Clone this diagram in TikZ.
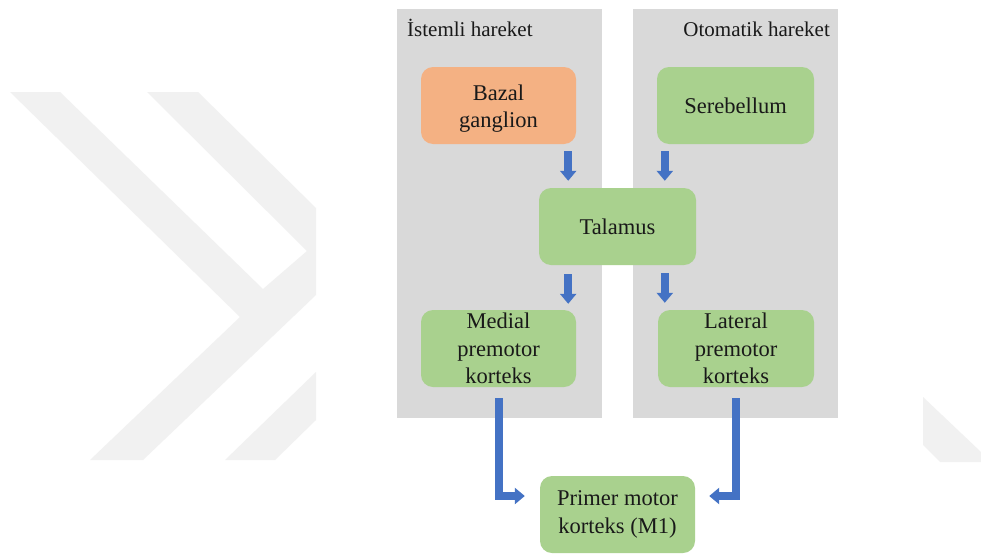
\documentclass[tikz,border=0pt]{standalone}
\usepackage{fontspec}
\setmainfont{Liberation Serif}
\usetikzlibrary{arrows.meta,positioning}
\definecolor{panel}{RGB}{217,217,217}
\definecolor{wmark}{RGB}{241,241,241}
\definecolor{greenbox}{RGB}{169,209,142}
\definecolor{orangebox}{RGB}{244,177,131}
\definecolor{flow}{RGB}{68,114,196}

\begin{document}
\begin{tikzpicture}[x=1pt,y=-1pt,
  every node/.style={font=\fontsize{21}{27.5}\selectfont,text=black!90},
  area/.style={rounded corners=12pt,inner sep=0pt,minimum height=77pt,align=center,
    font=\fontsize{22.5}{27.5}\selectfont},
  blockarrow/.style={flow,line width=8pt,-{Triangle[width=16pt,length=10pt]}}]
  \useasboundingbox (0,0) rectangle (981,554);
  \fill[white] (0,0) rectangle (981,554);

  % faint chevrons behind everything
  \fill[wmark] (10,92) -- (60,92) -- (263,289) -- (307,251) -- (147,92) -- (198,92)
    -- (316,208) -- (316,295) -- (143,460) -- (90,460) -- (240,317) -- cycle;
  \fill[wmark] (225,460) -- (275,460) -- (316,420) -- (316,372) -- cycle;
  \fill[wmark] (923,397) -- (981,452) -- (981,462) -- (940,462) -- (923,445) -- cycle;

  % the two columns
  \fill[panel] (397,9) rectangle (602,418);
  \fill[panel] (633,9) rectangle (838,418);
  \node[anchor=base west,inner sep=0pt] (istemli) at (407,36) {İstemli hareket};
  \node[anchor=base east,inner sep=0pt] (otomatik) at (830,36) {Otomatik hareket};

  % boxes
  \node[area,fill=orangebox,minimum width=155pt] (bazal) at (498.5,105.5) {\rule{0pt}{21.5pt}Bazal\\ganglion};
  \node[area,fill=greenbox,minimum width=157pt] (serebellum) at (735.5,105.5) {Serebellum};
  \node[area,fill=greenbox,minimum width=157pt] (talamus) at (617.5,226.5) {Talamus};
  \node[area,fill=greenbox,minimum width=155pt] (medial) at (498.5,348.5) {Medial\\premotor\\korteks};
  \node[area,fill=greenbox,minimum width=156pt] (lateral) at (736,348.5) {Lateral\\premotor\\korteks};
  \node[area,fill=greenbox,minimum width=155pt] (primer) at (617.5,514.5) {Primer motor\\korteks (M1)};

  % arrows
  \draw[blockarrow,shorten <=7pt,shorten >=7pt] ([xshift=-8pt]bazal.south east) -- ([xshift=-8pt]bazal.south east |- talamus.north);
  \draw[blockarrow,shorten <=7pt,shorten >=7pt] ([xshift=8pt]serebellum.south west) -- ([xshift=8pt]serebellum.south west |- talamus.north);
  \draw[blockarrow,shorten <=9pt,shorten >=6pt] ([xshift=-8pt]medial.north east |- talamus.south) -- ([xshift=-8pt]medial.north east);
  \draw[blockarrow,shorten <=8pt,shorten >=7pt] ([xshift=7pt]lateral.north west |- talamus.south) -- ([xshift=7pt]lateral.north west);
  \draw[blockarrow,shorten <=11pt,shorten >=15pt] (medial.south) |- ([yshift=18.5pt]primer.west);
  \draw[blockarrow,shorten <=11pt,shorten >=14pt] (lateral.south) |- ([yshift=18.5pt]primer.east);
\end{tikzpicture}
\end{document}
